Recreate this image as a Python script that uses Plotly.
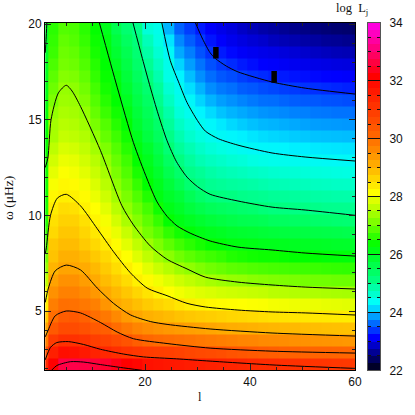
import plotly.graph_objects as go

# cell edges
l_edges = [1, 1.5] + [3.5 + 2 * i for i in range(29)] + [61]
omega_edges = [1.9 + 0.627 * i for i in range(30)]

# log L_j per cell, bottom row first, columns left to right
row00 = [31.0,31.8,32.1,32.15,32.1,32.05,32.0,31.9,31.8,31.7,31.5,31.45,31.4,31.35,31.3,31.27,31.22,31.18,31.15,31.1,31.05,31.02,31.0,30.96,30.93,30.9,30.87,30.85,30.82,30.8,30.75]
row01 = [30.3,31.25,31.55,31.5,31.35,31.2,31.1,30.98,30.88,30.8,30.73,30.7,30.67,30.62,30.55,30.5,30.45,30.4,30.3,30.25,30.2,30.15,30.1,30.05,30.03,30.0,30.0,30.0,29.98,29.97,29.95]
row02 = [29.6,30.75,30.95,30.95,30.85,30.7,30.6,30.45,30.3,30.1,29.97,29.9,29.85,29.8,29.75,29.7,29.65,29.6,29.55,29.5,29.47,29.42,29.4,29.37,29.33,29.3,29.28,29.26,29.24,29.22,29.2]
row03 = [29.0,30.2,30.45,30.45,30.35,30.2,30.1,29.87,29.68,29.5,29.37,29.28,29.2,29.14,29.09,29.04,28.99,28.93,28.9,28.87,28.84,28.8,28.77,28.75,28.73,28.7,28.68,28.66,28.64,28.62,28.6]
row04 = [28.5,29.86,30.15,30.2,30.05,29.85,29.7,29.43,29.15,28.98,28.86,28.78,28.71,28.61,28.55,28.5,28.45,28.4,28.35,28.32,28.28,28.24,28.2,28.17,28.14,28.12,28.1,28.09,28.07,28.06,28.05]
row05 = [28.0,29.6,29.83,29.8,29.7,29.57,29.25,28.95,28.81,28.66,28.5,28.37,28.27,28.13,28.03,27.96,27.9,27.85,27.83,27.8,27.78,27.76,27.72,27.7,27.68,27.66,27.65,27.62,27.6,27.58,27.57]
row06 = [27.7,29.3,29.55,29.55,29.4,29.2,28.95,28.75,28.55,28.35,28.16,27.98,27.8,27.7,27.62,27.55,27.5,27.45,27.42,27.39,27.36,27.33,27.27,27.25,27.22,27.2,27.18,27.16,27.14,27.12,27.1]
row07 = [27.3,29.05,29.3,29.3,29.12,28.93,28.7,28.5,28.27,28.0,27.85,27.69,27.56,27.42,27.31,27.21,27.12,27.05,27.0,26.98,26.93,26.9,26.87,26.85,26.83,26.8,26.78,26.77,26.75,26.74,26.73]
row08 = [27.0,28.8,29.02,29.0,28.92,28.73,28.49,28.25,28.02,27.8,27.58,27.39,27.24,27.06,26.96,26.86,26.78,26.72,26.65,26.62,26.58,26.55,26.52,26.5,26.48,26.46,26.44,26.42,26.4,26.39,26.37]
row09 = [26.8,28.6,28.86,28.86,28.72,28.52,28.3,28.05,27.79,27.55,27.31,27.09,26.93,26.77,26.65,26.55,26.47,26.4,26.3,26.25,26.2,26.17,26.17,26.13,26.1,26.1,26.08,26.05,26.03,26.02,26.0]
row10 = [26.6,28.53,28.7,28.7,28.5,28.3,28.05,27.83,27.58,27.32,27.05,26.85,26.66,26.49,26.35,26.23,26.13,26.05,25.97,25.95,25.93,25.88,25.87,25.84,25.82,25.8,25.79,25.77,25.75,25.74,25.71]
row11 = [26.45,28.3,28.55,28.55,28.35,28.11,27.88,27.64,27.37,27.07,26.8,26.62,26.38,26.2,26.05,25.93,25.85,25.8,25.73,25.7,25.67,25.63,25.59,25.56,25.54,25.52,25.5,25.48,25.46,25.44,25.42]
row12 = [26.3,28.2,28.4,28.4,28.2,27.93,27.73,27.46,27.15,26.89,26.66,26.41,26.11,25.94,25.81,25.7,25.6,25.53,25.47,25.42,25.4,25.37,25.3,25.28,25.25,25.25,25.2,25.18,25.15,25.13,25.12]
row13 = [26.25,28.05,28.25,28.2,27.98,27.8,27.58,27.27,26.97,26.74,26.5,26.19,25.9,25.76,25.58,25.45,25.34,25.28,25.23,25.18,25.15,25.07,25.02,25.0,24.97,24.97,24.93,24.9,24.89,24.88,24.88]
row14 = [26.2,27.9,28.02,27.98,27.85,27.65,27.42,27.1,26.83,26.58,26.3,25.95,25.75,25.6,25.37,25.2,25.08,25.02,24.99,24.93,24.9,24.87,24.82,24.8,24.77,24.75,24.72,24.7,24.68,24.67,24.66]
row15 = [26.2,27.75,27.9,27.85,27.72,27.52,27.27,26.94,26.71,26.42,26.1,25.85,25.6,25.37,25.14,24.98,24.87,24.82,24.77,24.74,24.7,24.65,24.6,24.58,24.55,24.53,24.5,24.48,24.46,24.45,24.43]
row16 = [26.2,27.6,27.78,27.72,27.58,27.38,27.13,26.83,26.58,26.25,25.95,25.71,25.42,25.19,24.93,24.83,24.7,24.62,24.57,24.52,24.47,24.43,24.38,24.35,24.33,24.3,24.28,24.26,24.24,24.22,24.2]
row17 = [26.2,27.45,27.65,27.6,27.45,27.25,26.98,26.72,26.47,26.12,25.85,25.58,25.27,25.0,24.77,24.6,24.5,24.43,24.35,24.3,24.22,24.17,24.13,24.1,24.08,24.05,24.04,24.02,24.01,24.0,23.99]
row18 = [26.15,27.3,27.5,27.45,27.32,27.1,26.85,26.6,26.33,25.98,25.72,25.45,25.1,24.8,24.6,24.43,24.3,24.22,24.14,24.05,24.0,23.95,23.94,23.91,23.87,23.87,23.85,23.84,23.83,23.82,23.81]
row19 = [26.1,27.13,27.35,27.3,27.2,26.95,26.7,26.47,26.2,25.85,25.55,25.3,24.95,24.63,24.4,24.25,24.1,24.0,23.94,23.88,23.83,23.79,23.76,23.74,23.71,23.69,23.67,23.66,23.65,23.64,23.63]
row20 = [26.05,27.1,27.25,27.2,27.08,26.82,26.6,26.33,26.07,25.7,25.45,25.2,24.8,24.47,24.27,24.07,23.95,23.85,23.77,23.71,23.66,23.62,23.6,23.57,23.55,23.52,23.5,23.49,23.48,23.47,23.46]
row21 = [26.0,26.98,27.15,27.1,26.98,26.7,26.45,26.2,25.95,25.6,25.35,25.05,24.68,24.3,24.1,23.9,23.78,23.67,23.6,23.55,23.5,23.45,23.43,23.4,23.37,23.36,23.33,23.32,23.3,23.3,23.28]
row22 = [25.95,26.85,27.05,27.02,26.87,26.6,26.33,26.1,25.82,25.5,25.25,24.9,24.5,24.18,23.97,23.75,23.6,23.5,23.44,23.38,23.33,23.28,23.27,23.23,23.2,23.18,23.17,23.15,23.14,23.12,23.1]
row23 = [25.9,26.75,27.0,26.95,26.78,26.5,26.22,26.03,25.7,25.4,25.15,24.8,24.35,24.07,23.8,23.6,23.42,23.33,23.28,23.2,23.17,23.12,23.09,23.05,23.03,23.0,22.99,22.97,22.95,22.93,22.92]
row24 = [25.85,26.65,26.9,26.85,26.68,26.4,26.15,25.95,25.6,25.3,25.03,24.65,24.2,23.9,23.65,23.43,23.27,23.17,23.12,23.05,23.0,22.97,22.93,22.9,22.87,22.85,22.83,22.81,22.8,22.78,22.76]
row25 = [25.8,26.55,26.8,26.75,26.58,26.32,26.08,25.8,25.5,25.2,24.85,24.5,24.15,23.75,23.5,23.3,23.14,23.03,22.97,22.9,22.85,22.8,22.78,22.75,22.72,22.7,22.67,22.65,22.63,22.62,22.6]
row26 = [25.75,26.45,26.75,26.68,26.5,26.23,26.02,25.68,25.4,25.12,24.7,24.35,24.0,23.55,23.35,23.15,23.0,22.9,22.83,22.76,22.72,22.68,22.65,22.6,22.58,22.55,22.52,22.5,22.48,22.47,22.45]
row27 = [25.7,26.4,26.68,26.6,26.42,26.17,25.97,25.58,25.28,25.05,24.55,24.22,23.82,23.4,23.2,23.03,22.88,22.78,22.7,22.63,22.58,22.55,22.5,22.47,22.45,22.42,22.4,22.37,22.36,22.34,22.32]
row28 = [25.65,26.35,26.6,26.55,26.35,26.12,25.87,25.42,25.15,24.93,24.3,24.15,23.6,23.22,23.05,22.9,22.77,22.68,22.6,22.53,22.48,22.43,22.4,22.36,22.33,22.31,22.28,22.26,22.24,22.23,22.2]
z_rows = [row00,row01,row02,row03,row04,row05,row06,row07,row08,row09,row10,row11,row12,row13,row14,
          row15,row16,row17,row18,row19,row20,row21,row22,row23,row24,row25,row26,row27,row28]

# contour lines of log L_j
c23_l = [29.6,31,32.4,33.4,35.5,37.7,44.2,50.5,60]
c23_w = [20.07,19.2,18.5,18.2,17.8,17.5,16.97,16.65,16.34]
c24_l = [23.2,24.8,26.5,28,30,31.5,34,37.7,44.2,50.5,60]
c24_w = [20.07,18.1,16.9,15.9,14.95,14.4,14.0,13.67,13.26,13.05,12.84]
c25_l = [17.7,19.5,21,22.5,24.2,26,28,30,32.4,37.7,44.2,50.5,60]
c25_w = [20.07,18.2,16.7,15.3,13.9,12.8,12.0,11.5,11.1,10.75,10.43,10.28,10.0]
c26a_l = [1.3,1.15,1.0]
c26a_w = [20.07,19.2,18.5]
c26_l = [11.3,14.7,17.8,20.4,22.3,24.2,26.1,28.6,32.4,37.7,44.2,50.5,60]
c26_w = [20.07,16.7,13.8,11.9,10.7,9.95,9.45,9.07,8.66,8.34,8.19,8.03,7.87]
c27_l = [1.0,1.5,2.1,3.5,5,6.1,7.7,11.5,15.6,17.8,21,24.2,28,31.5,37.7,44.2,50.5,60]
c27_w = [12.5,13,15,16.4,16.8,16.5,15.7,13.4,10.5,9.5,8.4,7.7,7.2,6.77,6.51,6.36,6.25,6.15]
c28_l = [1.0,1.2,2,3.3,5,7.7,10.9,14,17.2,20.4,24.2,28,31.5,37.7,44.2,50.5,60]
c28_w = [8,8.3,10.0,10.9,11.1,10.5,9.3,8.1,7,6.2,5.8,5.4,5.21,5.05,4.95,4.9,4.79]
c29_l = [1.0,1.6,2.9,5,7.7,10.9,14,17.2,21,24.2,32.4,44.2,60]
c29_w = [5.45,6.2,7.1,7.4,7.15,6.2,5.4,4.8,4.45,4.3,4.06,3.85,3.69]
c30_l = [1.0,1.4,2.9,5,7.7,11.5,14.7,17.8,24.2,32.4,44.2,60]
c30_w = [3.65,3.9,4.75,5.0,4.9,4.4,3.9,3.55,3.3,3.06,2.9,2.8]
c31_l = [1.0,2,3.2,5.4,8.3,11.5,15.9,19.7,26,32.4,45,60]
c31_w = [2.45,3.1,3.35,3.4,3.25,3.0,2.75,2.6,2.5,2.38,2.17,2.0]
c32_l = [2.2,3.2,5.8,8.3,11.5,15.3,19.4]
c32_w = [1.9,2.15,2.35,2.33,2.2,2.05,1.9]
contours = [(c23_l,c23_w),(c24_l,c24_w),(c25_l,c25_w),(c26a_l,c26a_w),(c26_l,c26_w),(c27_l,c27_w),
            (c28_l,c28_w),(c29_l,c29_w),(c30_l,c30_w),(c31_l,c31_w),(c32_l,c32_w)]

mark1_l = [33.5,33.5]
mark1_w = [18.2,18.8]
mark2_l = [44.6,44.6]
mark2_w = [16.93,17.55]

bar_levels = [22+0.25*i for i in range(48)]
bar_edges = [22+0.25*i for i in range(49)]

zmin, zmax = 22, 34
heat_stops = [(22,'rgb(0,0,50)'),(22.2,'rgb(0,0,100)'),(22.6,'rgb(0,0,220)'),(22.8,'rgb(0,0,255)'),(23,'rgb(0,50,255)'),
              (23.9,'rgb(0,245,255)'),(24.2,'rgb(0,255,230)'),(25,'rgb(0,255,128)'),(26.1,'rgb(0,255,0)'),(27,'rgb(150,255,0)'),
              (27.8,'rgb(255,255,0)'),(29,'rgb(255,165,0)'),(30,'rgb(255,100,0)'),(31,'rgb(255,45,0)'),(31.8,'rgb(255,0,0)'),
              (32.1,'rgb(255,0,70)'),(33,'rgb(255,0,128)'),(34,'rgb(255,0,255)')]
bar_stops = [(22,'rgb(0,0,40)'),(23,'rgb(0,0,255)'),(24.2,'rgb(0,255,255)'),(25,'rgb(0,255,128)'),
             (26.2,'rgb(0,255,0)'),(27,'rgb(128,255,0)'),(28,'rgb(255,255,0)'),(29,'rgb(255,170,0)'),
             (30,'rgb(255,100,0)'),(32,'rgb(255,0,0)'),(33,'rgb(255,0,128)'),(34,'rgb(255,0,255)')]
heat_scale = [[(v-zmin)/(zmax-zmin),c] for v,c in heat_stops]
bar_scale = [[(v-zmin)/(zmax-zmin),c] for v,c in bar_stops]

fig = go.Figure()
fig.add_trace(go.Heatmap(x=l_edges,y=omega_edges,z=z_rows,colorscale=heat_scale,zmin=zmin,zmax=zmax,showscale=False,hoverinfo='skip',xaxis='x',yaxis='y'))
for cl,cw in contours:
    fig.add_trace(go.Scatter(x=cl,y=cw,mode='lines',line=dict(color='black',width=1,shape='spline',smoothing=0.7),
                             showlegend=False,xaxis='x',yaxis='y',cliponaxis=True))
for ml,mw in [(mark1_l,mark1_w),(mark2_l,mark2_w)]:
    fig.add_trace(go.Scatter(x=ml,y=mw,mode='lines',line=dict(color='black',width=5.5),showlegend=False))
fig.add_trace(go.Heatmap(x=[0,1],y=bar_edges,z=[[v] for v in bar_levels],colorscale=bar_scale,zmin=zmin,zmax=zmax,showscale=False,hoverinfo='skip',xaxis='x2',yaxis='y2'))

W=H=415
font=dict(family='Liberation Sans',size=12,color='#111')
y0,y1=(H-370.3)/H,(H-22.7)/H
label_font=dict(family='Liberation Serif',size=12.5,color='#111')
fig.update_layout(
    width=W,height=H,autosize=False,margin=dict(l=0,r=0,t=0,b=0),
    paper_bgcolor='white',plot_bgcolor='white',showlegend=False,font=font,
    xaxis=dict(automargin=False,domain=[45/W,355/W],range=[0.95,60],tick0=0,dtick=20,ticks='inside',ticklen=6,tickwidth=1,tickcolor='#222',
               minor=dict(dtick=5,tick0=0,ticks='inside',ticklen=3,tickwidth=1,tickcolor='#222'),
               showgrid=False,zeroline=False,showline=True,linecolor='black',linewidth=1,mirror='allticks',
               tickfont=font,anchor='y'),
    yaxis=dict(automargin=False,domain=[y0,y1],range=[1.9,20.07],tick0=0,dtick=5,ticks='inside',ticklen=6,tickwidth=1,tickcolor='#222',
               minor=dict(dtick=1,tick0=0,ticks='inside',ticklen=3,tickwidth=1,tickcolor='#222'),
               showgrid=False,zeroline=False,showline=True,linecolor='black',linewidth=1,mirror='allticks',tickfont=font,anchor='x'),
    xaxis2=dict(automargin=False,domain=[368/W,380/W],range=[0,1],showticklabels=False,ticks='',showgrid=False,zeroline=False,
                showline=True,linecolor='#555',linewidth=1,mirror=True,anchor='y2'),
    yaxis2=dict(automargin=False,domain=[y0,y1],range=[22,34],anchor='x2',side='right',tick0=22,dtick=2,ticks='inside',ticklen=12,tickwidth=1,tickcolor='#111',
                minor=dict(dtick=0.5,tick0=22,ticks='inside',ticklen=3,tickwidth=1,tickcolor='#111'),
                showgrid=False,zeroline=False,showline=True,linecolor='#555',linewidth=1,mirror='allticks',tickfont=font,ticklabelstandoff=6),
    annotations=[
        dict(text='l',x=200/W,y=1-397/H,xref='paper',yref='paper',xanchor='center',yanchor='middle',showarrow=False,font=label_font),
        dict(text='ω (μHz)',x=8/W,y=1-198/H,xref='paper',yref='paper',xanchor='center',yanchor='middle',textangle=-90,showarrow=False,font=dict(family='Liberation Serif',size=13.5,color='#111')),
        dict(text='log\u00a0\u00a0L<sub>j</sub>',x=352/W,y=1-9/H,xref='paper',yref='paper',xanchor='center',yanchor='middle',showarrow=False,font=label_font),
    ],
)
fig.write_html('out.html', config=dict(displayModeBar=False), post_script="document.body.style.margin='0';document.documentElement.style.overflow='hidden';")
